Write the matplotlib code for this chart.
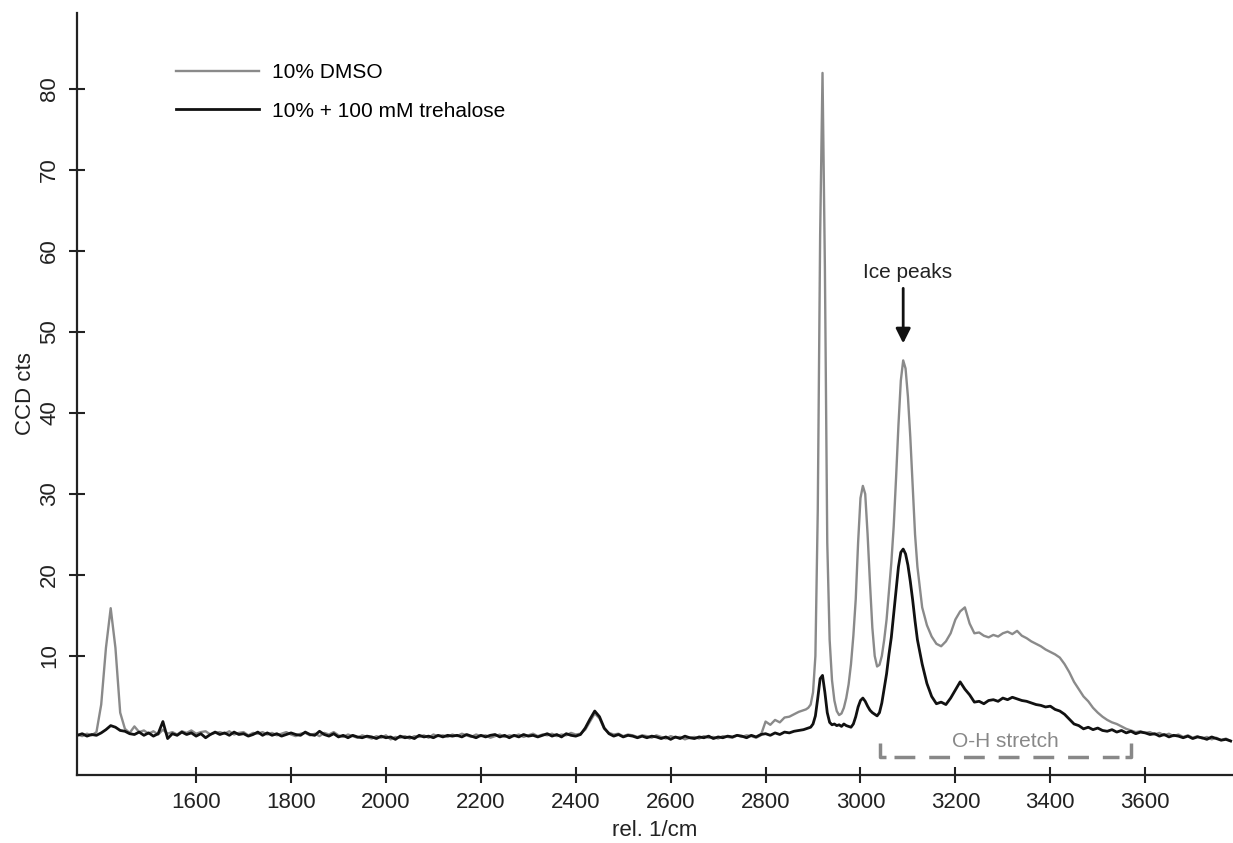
import numpy as np
import matplotlib
matplotlib.use('Agg')
import matplotlib.pyplot as plt

plt.rcParams['font.family'] = ['Liberation Sans', 'DejaVu Sans']

# wavenumber grid, finer around the C-H / ice peaks
wn = np.concatenate([np.arange(1350, 2880, 10),
                     np.arange(2880, 3120, 5),
                     np.arange(3120, 3790, 10)])

# 10% DMSO (grey trace)
dmso_a = [0.3, 0.1, 0.4, 0.2, 0.6, 4.0, 11.0, 15.9, 11.0, 3.0,
          1.0, 0.5, 1.3, 0.6, 0.8, 0.4, 0.7, 0.3, 0.9, 0.4,
          0.6, 0.3, 0.7, 0.5, 0.8, 0.4, 0.6, 0.7, 0.3, 0.5,
          0.6, 0.4, 0.7, 0.3, 0.5, 0.6, 0.2, 0.5, 0.4, 0.6,
          0.3, 0.5, 0.2, 0.4, 0.6, 0.3, 0.1, 0.4, 0.5, 0.2,
          0.4, 0.1, 0.5, 0.3, 0.6, 0.2, 0.0, 0.3, 0.1, -0.1,
          0.2, 0.0, -0.2, 0.1, -0.1, 0.2, -0.3, 0.0, -0.1, 0.1,
          -0.2, 0.1, 0.0, 0.2, -0.1, 0.3, 0.1, 0.2, 0.0, 0.3,
          0.1, 0.4, 0.2, 0.0, 0.3, 0.1, 0.2, -0.1, 0.1, 0.3,
          0.0, 0.2, 0.1, 0.3, 0.0, 0.2, 0.4, 0.1, 0.3, 0.2,
          0.4, 0.1, 0.3, 0.2, 0.5, 0.3, 0.4, 0.9, 1.9, 2.9,
          2.3, 1.0, 0.5, 0.3, 0.4, 0.1, 0.3, 0.2, 0.0, 0.2,
          0.1, -0.1, 0.2, 0.0, -0.2, 0.1, -0.1, 0.0, -0.3, -0.1,
          0.0, -0.2, 0.1, -0.1, 0.0, -0.2, 0.1, 0.0, -0.1, 0.2,
          0.0, 0.2, 0.1, -0.1, 0.2, 1.9, 1.5, 2.1, 1.8, 2.4,
          2.5, 2.8, 3.1]
dmso_b = [3.3, 3.4, 3.6, 4.0, 5.5, 10.0, 28.0, 62.0,
          82.0, 58.0, 24.0, 12.0, 7.0, 4.5, 3.2, 2.7,
          2.9, 3.6, 4.8, 6.5, 9.0, 12.5, 17.0, 24.0,
          29.5, 31.0, 30.0, 25.0, 19.0, 13.5, 10.0, 8.7,
          8.9, 10.0, 12.0, 14.5, 18.0, 21.5, 26.0, 32.0,
          38.5, 44.0, 46.5, 45.5, 42.0, 37.0, 31.0, 25.0]
dmso_c = [21.0, 16.0, 13.8, 12.4, 11.5, 11.2, 11.8, 12.8, 14.5, 15.5,
          16.0, 14.0, 12.8, 12.9, 12.5, 12.3, 12.6, 12.4, 12.8, 13.0,
          12.7, 13.1, 12.5, 12.2, 11.8, 11.5, 11.2, 10.8, 10.5, 10.2,
          9.8, 9.0, 8.0, 6.8, 5.9, 5.0, 4.4, 3.6, 3.0, 2.5,
          2.1, 1.8, 1.6, 1.3, 1.0, 0.8, 0.6, 0.7, 0.5, 0.6,
          0.3, 0.5, 0.2, 0.4, 0.1, 0.3, 0.0, 0.2, -0.1, 0.1,
          -0.2, 0.0, -0.3, -0.1, -0.4, -0.2, -0.5]

# 10% DMSO + 100 mM trehalose (black trace)
treh_a = [0.2, 0.4, 0.1, 0.3, 0.2, 0.5, 0.9, 1.4, 1.2, 0.8,
          0.7, 0.4, 0.3, 0.6, 0.2, 0.5, 0.1, 0.4, 1.9, -0.2,
          0.4, 0.2, 0.6, 0.3, 0.5, 0.1, 0.4, -0.1, 0.3, 0.6,
          0.3, 0.5, 0.2, 0.6, 0.3, 0.4, 0.1, 0.3, 0.6, 0.2,
          0.5, 0.2, 0.4, 0.1, 0.3, 0.5, 0.3, 0.2, 0.6, 0.3,
          0.2, 0.7, 0.3, 0.1, 0.4, 0.0, 0.2, -0.1, 0.2, 0.0,
          -0.1, 0.1, 0.0, -0.2, 0.1, -0.1, 0.0, -0.3, 0.1, -0.1,
          0.0, -0.2, 0.2, 0.0, 0.1, -0.1, 0.2, 0.0, 0.2, 0.1,
          0.2, 0.0, 0.3, 0.1, -0.1, 0.2, 0.0, 0.2, 0.3, 0.0,
          0.2, -0.1, 0.2, 0.0, 0.3, 0.1, 0.2, 0.0, 0.2, 0.4,
          0.1, 0.3, 0.0, 0.4, 0.2, 0.1, 0.3, 1.1, 2.2, 3.2,
          2.5, 1.1, 0.4, 0.1, 0.3, 0.0, 0.2, 0.1, -0.1, 0.1,
          -0.1, 0.1, 0.0, -0.2, 0.0, -0.3, 0.0, -0.2, 0.1, -0.1,
          -0.2, 0.0, -0.1, 0.1, -0.2, 0.0, -0.1, 0.1, 0.0, 0.2,
          0.1, -0.1, 0.2, 0.0, 0.3, 0.4, 0.2, 0.5, 0.3, 0.6,
          0.5, 0.7, 0.8]
treh_b = [0.9, 1.0, 1.1, 1.2, 1.6, 2.6, 4.8, 7.2,
          7.6, 5.5, 3.0, 1.8, 1.5, 1.6, 1.4, 1.5,
          1.3, 1.6, 1.4, 1.3, 1.2, 1.6, 2.5, 3.7,
          4.5, 4.8, 4.4, 3.8, 3.3, 3.0, 2.8, 2.6,
          3.0, 4.2, 6.0, 7.8, 10.2, 12.3, 15.2, 18.0,
          21.0, 22.8, 23.2, 22.6, 21.2, 19.2, 16.9, 14.3]
treh_c = [12.0, 9.0, 6.6, 5.0, 4.1, 4.3, 4.0, 4.8, 5.8, 6.8,
          5.9, 5.2, 4.3, 4.4, 4.1, 4.5, 4.6, 4.4, 4.8, 4.6,
          4.9, 4.7, 4.5, 4.4, 4.2, 4.0, 3.9, 3.7, 3.8, 3.4,
          3.2, 2.8, 2.2, 1.6, 1.4, 1.0, 1.2, 0.9, 1.1, 0.8,
          0.7, 0.9, 0.6, 0.8, 0.5, 0.7, 0.4, 0.6, 0.5, 0.3,
          0.4, 0.1, 0.3, 0.0, 0.2, 0.1, -0.1, 0.1, -0.2, 0.0,
          -0.1, -0.3, 0.0, -0.2, -0.4, -0.3, -0.5]

dmso = np.array(dmso_a + dmso_b + dmso_c)
treh = np.array(treh_a + treh_b + treh_c)

fig = plt.figure(figsize=(12.33, 8.43), dpi=100)
ax = fig.add_axes([77/1233, 68/843, 1156/1233, 762/843])

ax.plot(wn, dmso, color='#8a8a8a', lw=1.7, label='10% DMSO')
ax.plot(wn, treh, color='#111111', lw=2.0, label='10% + 100 mM trehalose')

ax.set_xlim(1349, 3785)
ax.set_ylim(-4.7, 89.4)
ax.set_xticks(range(1600, 3601, 200))
ax.set_yticks(range(10, 81, 10))

for s in ['top', 'right']:
    ax.spines[s].set_visible(False)
for s in ['left', 'bottom']:
    ax.spines[s].set_linewidth(1.6)
    ax.spines[s].set_color('#222222')

ax.tick_params(direction='inout', length=12, width=1.5, color='#222222',
               labelsize=16, labelcolor='#222222', pad=6)
ax.tick_params(axis='y', labelrotation=90)
for lab in ax.get_yticklabels():
    lab.set_va('center')

ax.set_xlabel('rel. 1/cm', fontsize=16, color='#222222')
ax.xaxis.set_label_coords(0.5, -0.059)
ax.set_ylabel('CCD cts', fontsize=16, color='#222222')
ax.yaxis.set_label_coords(-0.0355, 0.5)

ax.legend(loc='upper left', bbox_to_anchor=(176/1233, 1 - 63/843),
          bbox_transform=fig.transFigure, frameon=False, fontsize=15,
          handlelength=4.0, handletextpad=0.6, labelspacing=0.95,
          borderpad=0, borderaxespad=0)

# ice peak annotation
ax.text(3100, 57.4, 'Ice peaks', fontsize=15, ha='center', va='center', color='#222222')
ax.annotate('', xy=(3090, 48.6), xytext=(3090, 55.4),
            arrowprops=dict(arrowstyle='-|>', color='#111111', lw=2,
                            mutation_scale=22, shrinkA=0, shrinkB=0))

# O-H stretch bracket
oh_lo, oh_hi = 3041, 3570
ax.plot([oh_lo, oh_lo, oh_lo + 12], [-0.7, -2.5, -2.5], color='#888888', lw=2.5,
        solid_capstyle='butt')
ax.plot([oh_hi - 12, oh_hi, oh_hi], [-2.5, -2.5, -0.7], color='#888888', lw=2.5,
        solid_capstyle='butt')
ax.plot([oh_lo + 30, oh_hi - 25], [-2.5, -2.5], color='#888888', lw=2.5,
        ls=(0, (6, 4)))
ax.text(3305, -0.6, 'O-H stretch', fontsize=15, ha='center', va='center', color='#888888')

fig.savefig('out.png', dpi=100)
